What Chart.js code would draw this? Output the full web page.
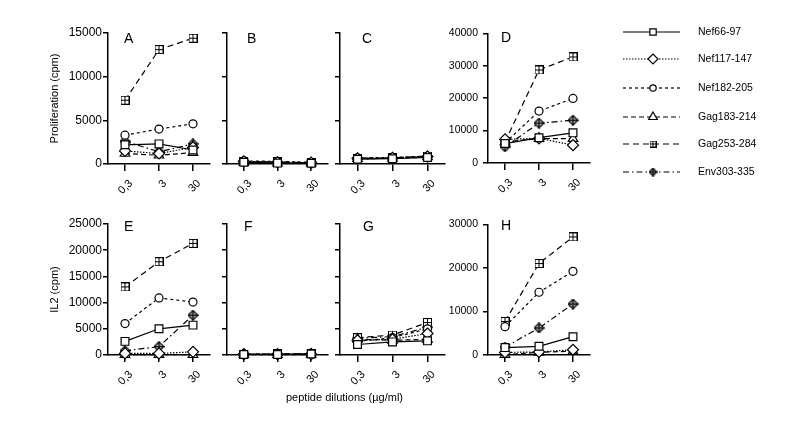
<!DOCTYPE html>
<html>
<head>
<meta charset="utf-8">
<script src="https://cdn.jsdelivr.net/npm/chart.js@4.4.0/dist/chart.umd.min.js"></script>
<style>
  body { margin: 0; background: #fff; width: 800px; height: 431px; position: relative; overflow: hidden;
         font-family: "Liberation Sans", Arial, sans-serif; color: #000; }
  canvas { position: absolute; }
  .letter { position: absolute; font-size: 14px; }
  .xtitle { position: absolute; font-size: 11px; left: 286px; top: 391px; }
  .leg { position: absolute; font-size: 10.5px; left: 698px; }
</style>
</head>
<body>
<script>
const doses = ['0,3', '3', '30'];
const peptides = ['Nef66-97', 'Nef117-147', 'Nef182-205', 'Gag183-214', 'Gag253-284', 'Env303-335'];

// rows follow the peptide order above
const valuesA = [
  [2200, 2300, 1600],
  [1500, 1200, 1900],
  [3300, 4000, 4600],
  [1200, 1000, 1300],
  [7300, 13100, 14400],
  [2600, 1400, 2300]
];
const valuesB = [
  [200, 100, 80],
  [300, 200, 150],
  [350, 300, 200],
  [150, 100, 100],
  [250, 250, 150],
  [300, 200, 100]
];
const valuesC = [
  [550, 600, 750],
  [650, 700, 850],
  [700, 750, 900],
  [600, 650, 800],
  [650, 700, 900],
  [600, 650, 850]
];
const valuesD = [
  [6000, 7800, 9300],
  [7300, 7600, 5500],
  [6200, 16000, 19900],
  [6500, 7500, 7500],
  [6500, 28700, 32700],
  [5000, 12300, 13200]
];
const valuesE = [
  [2600, 5000, 5700],
  [300, 300, 600],
  [6000, 10900, 10100],
  [50, 50, 50],
  [13000, 17800, 21300],
  [800, 1600, 7600]
];
const valuesF = [
  [100, 100, 200],
  [150, 150, 150],
  [200, 150, 200],
  [50, 50, 100],
  [150, 200, 250],
  [100, 150, 200]
];
const valuesG = [
  [2000, 2500, 2700],
  [2800, 3000, 4100],
  [2600, 3300, 5000],
  [3000, 2800, 3000],
  [3300, 3800, 6200],
  [3200, 3500, 5300]
];
const valuesH = [
  [1700, 2000, 4200],
  [600, 700, 1200],
  [6500, 14400, 19200],
  [100, 600, 900],
  [7700, 21000, 27100],
  [1800, 6200, 11700]
];

// marker images for the two crossed symbols
function crossBox(s) {
  const c = document.createElement('canvas');
  c.width = c.height = s;
  const g = c.getContext('2d');
  const m = s / 2;
  g.fillStyle = '#fff';
  g.fillRect(0.5, 0.5, s - 1, s - 1);
  g.strokeStyle = '#000';
  g.lineWidth = 1;
  g.strokeRect(0.5, 0.5, s - 1, s - 1);
  g.beginPath();
  g.moveTo(m, 0.5); g.lineTo(m, s - 0.5);
  g.moveTo(0.5, m); g.lineTo(s - 0.5, m);
  g.stroke();
  return c;
}
function crossDiamond(s) {
  const c = document.createElement('canvas');
  c.width = c.height = s;
  const g = c.getContext('2d');
  const m = s / 2;
  g.beginPath();
  g.moveTo(m, 0.6); g.lineTo(s - 0.6, m); g.lineTo(m, s - 0.6); g.lineTo(0.6, m); g.closePath();
  g.fillStyle = '#aaa';
  g.fill();
  g.strokeStyle = '#000';
  g.lineWidth = 1.2;
  g.stroke();
  g.beginPath();
  g.moveTo(m, 1); g.lineTo(m, s - 1);
  g.moveTo(1, m); g.lineTo(s - 1, m);
  g.stroke();
  return c;
}

const dashes = [[], [1.5, 1.5], [3, 3], [5, 3], [6, 4], [6, 3, 1.5, 3]];
const plotStyles = ['rect', 'rectRot', 'circle', 'triangle', crossBox(9), crossDiamond(11)];
const plotRadius = [5.5, 5.5, 4, 5.5, 4.5, 5.5];

const panels = [
  { letter: 'A', values: valuesA, max: 15000, step: 5000, l: 108, r: 210, t: 33, b: 164, yW: 60, labels: true, tickSize: 12, tickPad: 1, title: 'Proliferation (cpm)' },
  { letter: 'B', values: valuesB, max: 15000, step: 5000, l: 227, r: 328, t: 33, b: 164, yW: 20, labels: false },
  { letter: 'C', values: valuesC, max: 15000, step: 5000, l: 340, r: 445, t: 33, b: 164, yW: 20, labels: false },
  { letter: 'D', values: valuesD, max: 40000, step: 10000, l: 488, r: 590, t: 32, b: 163, yW: 44, labels: true, tickSize: 10.5, tickPad: 5 },
  { letter: 'E', values: valuesE, max: 25000, step: 5000, l: 108, r: 210, t: 224, b: 355, yW: 60, labels: true, tickSize: 12, tickPad: 1, title: 'IL2 (cpm)' },
  { letter: 'F', values: valuesF, max: 25000, step: 5000, l: 227, r: 328, t: 224, b: 355, yW: 20, labels: false },
  { letter: 'G', values: valuesG, max: 25000, step: 5000, l: 340, r: 445, t: 224, b: 355, yW: 20, labels: false },
  { letter: 'H', values: valuesH, max: 30000, step: 10000, l: 488, r: 590, t: 223, b: 355, yW: 44, labels: true, tickSize: 10.5, tickPad: 5 }
];
const letterPos = { A: [124, 30], B: [247, 30], C: [362, 30], D: [501, 29], E: [124, 218], F: [244, 218], G: [363, 218], H: [501, 217] };

const padTop = 10, xH = 40, padRight = 8;

panels.forEach(p => {
  const c = document.createElement('canvas');
  c.width = p.yW + (p.r - p.l) + padRight;
  c.height = padTop + (p.b - p.t) + xH;
  c.style.left = (p.l - p.yW) + 'px';
  c.style.top = (p.t - padTop) + 'px';
  document.body.appendChild(c);

  new Chart(c, {
    type: 'line',
    data: {
      labels: doses,
      datasets: p.values.map((v, i) => ({
        label: peptides[i],
        data: v,
        borderColor: '#000',
        borderWidth: 1.2,
        borderDash: dashes[i],
        pointStyle: plotStyles[i],
        pointRadius: plotRadius[i],
        pointBackgroundColor: '#fff',
        pointBorderColor: '#000',
        pointBorderWidth: 1.2,
        tension: 0,
        clip: false
      }))
    },
    options: {
      responsive: false,
      animation: false,
      layout: { padding: { top: padTop, right: padRight, bottom: 0, left: 0 } },
      plugins: { legend: { display: false }, tooltip: { enabled: false } },
      scales: {
        x: {
          offset: true,
          grid: { drawOnChartArea: false, tickLength: 7, color: '#000', lineWidth: 1.5 },
          border: { color: '#000', width: 1.5 },
          ticks: { minRotation: 45, maxRotation: 45, color: '#000', font: { family: 'Liberation Sans', size: 11 }, padding: 6, labelOffset: 6 },
          afterFit: s => { s.height = xH; }
        },
        y: {
          min: 0,
          max: p.max,
          ticks: { stepSize: p.step, display: p.labels, color: '#000', font: { family: 'Liberation Sans', size: p.tickSize || 11 }, padding: p.tickPad || 1, callback: v => String(v) },
          grid: { drawOnChartArea: false, tickLength: 5, color: '#000', lineWidth: 1.5 },
          border: { color: '#000', width: 1.5 },
          title: p.title ? { display: true, text: p.title, color: '#000', font: { family: 'Liberation Sans', size: 11 }, padding: 0 } : { display: false },
          afterFit: s => { s.width = p.yW; }
        }
      }
    }
  });

  const d = document.createElement('div');
  d.className = 'letter';
  d.textContent = p.letter;
  d.style.left = letterPos[p.letter][0] + 'px';
  d.style.top = letterPos[p.letter][1] + 'px';
  document.body.appendChild(d);
});

// x axis title shared by the bottom row
const xt = document.createElement('div');
xt.className = 'xtitle';
xt.textContent = 'peptide dilutions (µg/ml)';
document.body.appendChild(xt);

// legend: line sample with marker, then the name
const legStyles = ['rect', 'rectRot', 'circle', 'triangle', crossBox(7), crossDiamond(9)];
const legRadius = [4.5, 5, 3.2, 5, 4, 5];
const legY = [32, 59, 88, 117, 144, 172];
peptides.forEach((name, i) => {
  const c = document.createElement('canvas');
  c.width = 60; c.height = 14;
  c.style.left = '622px';
  c.style.top = (legY[i] - 7) + 'px';
  document.body.appendChild(c);
  const g = c.getContext('2d');
  g.strokeStyle = '#000';
  g.lineWidth = 1.2;
  g.setLineDash(dashes[i]);
  g.beginPath(); g.moveTo(1, 7); g.lineTo(58, 7); g.stroke();
  g.setLineDash([]);
  g.fillStyle = '#fff';
  Chart.helpers.drawPoint(g, { pointStyle: legStyles[i], radius: legRadius[i], borderWidth: 1.2, rotation: 0 }, 31, 7);

  const t = document.createElement('div');
  t.className = 'leg';
  t.textContent = name;
  t.style.top = (legY[i] - 7) + 'px';
  document.body.appendChild(t);
});
</script>
</body>
</html>
